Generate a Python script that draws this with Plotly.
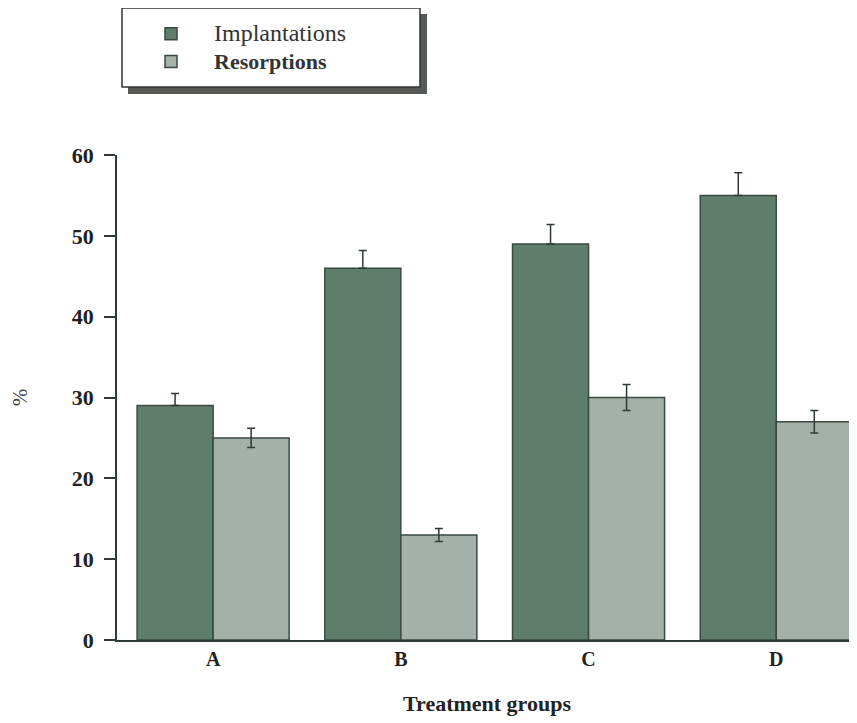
import plotly.graph_objects as go

groups = ["A", "B", "C", "D"]
implantations = [29, 46, 49, 55]
implantations_err = [1.5, 2.2, 2.4, 2.8]
resorptions = [25, 13, 30, 27]
resorptions_err = [1.2, 0.8, 1.6, 1.4]
y_ticks = [0, 10, 20, 30, 40, 50, 60]

# page has an 8px body margin; figure sized so it fits the 857x723 window
OFF = 8
W, H = 857 - OFF, 723 - OFF
L, R, T, B = 117 - OFF, 0, 155 - OFF, 83
PW, PH = W - L - R, H - T - B

def px(x):
    return (x - OFF - L) / PW

def py(y):
    return (H - B - (y - OFF)) / PH

serif = "Liberation Serif, Times New Roman, serif"
dark = "#2f3a33"

fig = go.Figure()
fig.add_trace(go.Bar(
    x=groups, y=implantations,
    name='<span style="font-size:24px">Implantations</span>', legendgroup="a",
    marker=dict(color="#5f7d6d", line=dict(color="#3b4a41", width=1.5)),
    error_y=dict(type="data", array=implantations_err,
                 arrayminus=[0] * len(implantations_err),
                 color=dark, thickness=1.5, width=4),
))
fig.add_trace(go.Bar(
    x=groups, y=resorptions,
    name='<span style="font-size:22px"><b>Resorptions</b></span>', legendgroup="b",
    marker=dict(color="#a4b1a8", line=dict(color="#3b4a41", width=1.5)),
    error_y=dict(type="data", array=resorptions_err,
                 color=dark, thickness=1.5, width=4),
))

# legend frame with drop shadow
fig.add_shape(type="rect", xref="paper", yref="paper",
              x0=px(128), x1=px(427), y0=py(94), y1=py(14),
              fillcolor="#555a57", line=dict(width=0), layer="below")
fig.add_shape(type="rect", xref="paper", yref="paper",
              x0=px(122), x1=px(420), y0=py(87), y1=py(8),
              fillcolor="white", line=dict(color="#333", width=1.5), layer="below")

fig.update_layout(
    width=W, height=H,
    margin=dict(l=L, r=R, t=T, b=B, pad=0),
    paper_bgcolor="white", plot_bgcolor="white",
    barmode="group", bargap=0.19, bargroupgap=0,
    font=dict(family=serif, color="#222", size=20),
    showlegend=True,
    legend=dict(x=px(128), y=py(15), xanchor="left", yanchor="top",
                bgcolor="rgba(0,0,0,0)", borderwidth=0,
                font=dict(family=serif, size=19, color="#333"),
                itemwidth=76, tracegroupgap=0, traceorder="normal"),
    xaxis=dict(
        range=[-0.512, 3.43], showline=True, linecolor=dark, linewidth=2,
        ticks="", showgrid=False, zeroline=False,
        tickfont=dict(family=serif, size=20, color="#222"),
        title=dict(text="<b>Treatment groups</b>", standoff=27,
                   font=dict(family=serif, size=22, color="#222")),
    ),
    yaxis=dict(
        range=[0, 60], tickvals=y_ticks, ticktext=[f"<b>{v}</b>" for v in y_ticks],
        showline=True, linecolor=dark, linewidth=1.5,
        ticks="outside", ticklen=11, tickwidth=1.5, tickcolor=dark,
        ticklabelstandoff=6,
        showgrid=False, zeroline=False,
        tickfont=dict(family=serif, size=22, color="#222"),
        title=dict(text="%", standoff=38,
                   font=dict(family=serif, size=21, color="#444")),
    ),
)
fig.update_xaxes(tickvals=groups, ticktext=[f"<b>{g}</b>" for g in groups])

fig.write_html("out.html")
